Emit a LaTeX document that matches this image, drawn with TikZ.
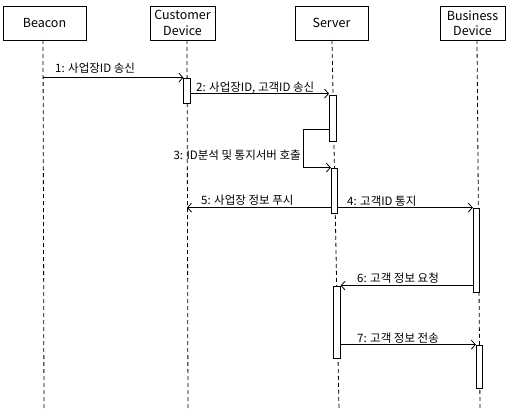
\documentclass[tikz,border=0pt]{standalone}
\usepackage{fontspec}
\setmainfont{Noto Sans CJK KR}
\usetikzlibrary{arrows.meta}
\begin{document}
\begin{tikzpicture}[x=1pt,y=-1pt,
  head/.style={draw, line width=0.7pt, fill=white, align=center, inner sep=0pt,
    font=\fontsize{12.5}{15.5}\selectfont},
  life/.style={line width=0.8pt, dash pattern=on 4pt off 3pt},
  act/.style={draw, fill=white, line width=0.8pt, inner sep=0pt, minimum width=6.5pt},
  msg/.style={line width=0.8pt, -{Straight Barb[length=4pt,width=9pt,line width=0.8pt]}},
  lbl/.style={font=\fontsize{11.5}{13}\selectfont, inner sep=0pt, anchor=west}]
\path[use as bounding box] (0,0) rectangle (510,412);

% heads
\node[head, minimum width=83pt, minimum height=34pt] (beacon) at (44.5,23) {Beacon};
\node[head, minimum width=65pt, minimum height=34pt] (cust) at (182.5,23) {Customer\\Device};
\node[head, minimum width=73pt, minimum height=34pt] (server) at (331.5,23) {Server};
\node[head, minimum width=65pt, minimum height=34pt] (biz) at (472.5,23) {Business\\Device};

% lifeline ends
\coordinate (lb0) at (43,40);  \coordinate (lb1) at (44,410);
\coordinate (lc0) at (187,40); \coordinate (lc1) at (188,410);
\coordinate (ls0) at (332,40); \coordinate (ls1) at (339,410);
\coordinate (ld0) at (477,40); \coordinate (ld1) at (480,410);
\draw[life] (lb0) -- (lb1);
\draw[life] (lc0) -- (lc1);
\draw[life] (ls0) -- (ls1);
\draw[life] (ld0) -- (ld1);

% activations
\node[act, minimum height=25pt] (ca1) at (187,90.5) {};
\node[act, minimum height=46pt] (sa1) at (332.7,118) {};
\node[act, minimum height=45pt] (sa2) at (334.5,190.5) {};
\node[act, minimum height=84pt] (ba1) at (476.5,250) {};
\node[act, minimum height=72pt] (sa3) at (337,322) {};
\node[act, minimum height=43pt] (ba2) at (479.5,366.5) {};

% messages
\draw[msg] (lb0 |- ca1.north) -- (ca1.north west);
\draw[msg] ([yshift=1pt]ca1.east |- sa1.north) -- ([yshift=1pt]sa1.north west);
\coordinate (selfa) at (303,129);
\draw[msg] (sa1.west |- selfa) -- (selfa) -- (selfa |- sa2.north) -- (sa2.north west);
\draw[msg] (sa2.east |- ba1.north) -- (ba1.north west);
\draw[msg] (sa2.west |- ba1.north) -- (lc0 |- ba1.north);
\draw[msg] (ba1.west |- sa3.north) -- (sa3.north east);
\draw[msg] (sa3.east |- ba2.north) -- (ba2.north west);

% labels
\node[lbl] (l1) at (55,68) {1: 사업장ID 송신};
\node[lbl] (l2) at (196,88) {2: 사업장ID, 고객ID 송신};
\node[lbl, anchor=east] (l3) at (301,155) {3: ID분석 및 통지서버 호출};
\node[lbl] (l4) at (347,201) {4: 고객ID 통지};
\node[lbl] (l5) at (201,200) {5: 사업장 정보 푸시};
\node[lbl] (l6) at (357,278) {6: 고객 정보 요청};
\node[lbl] (l7) at (357,338) {7: 고객 정보 전송};
\end{tikzpicture}
\end{document}
